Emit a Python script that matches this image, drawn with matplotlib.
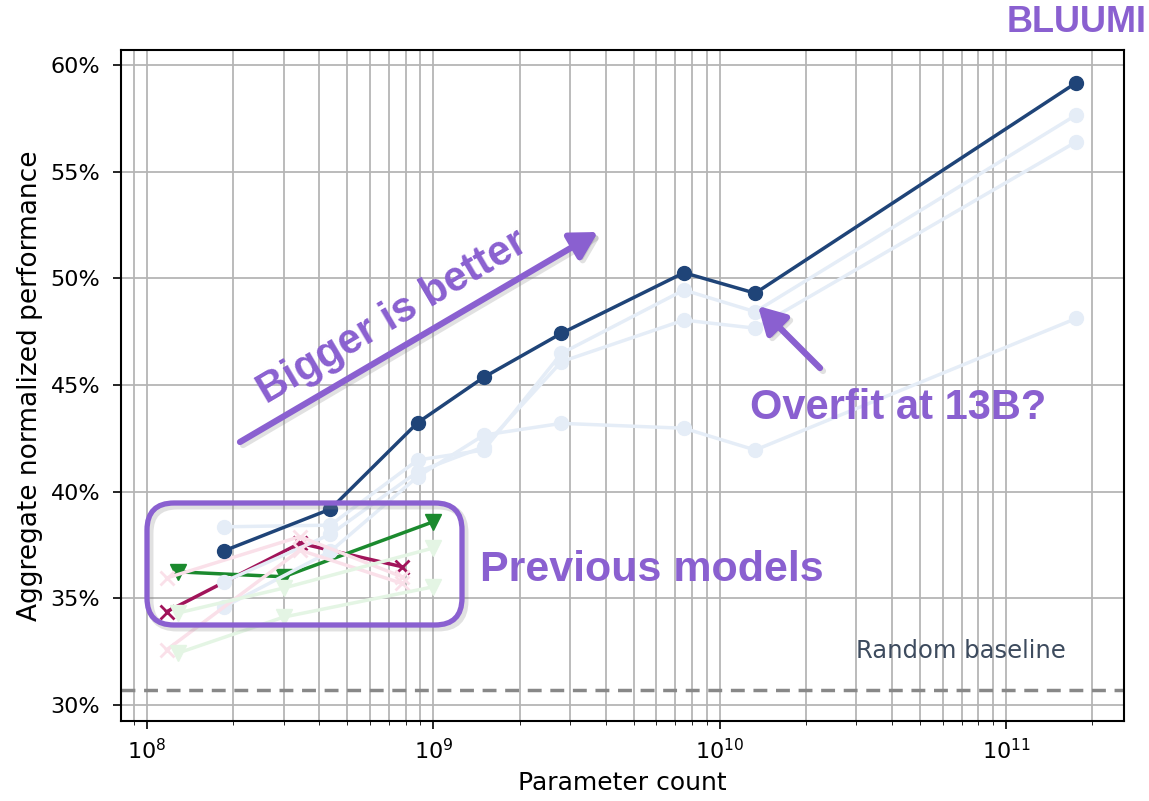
import matplotlib
matplotlib.use("Agg")
import matplotlib.pyplot as plt
from matplotlib.patches import FancyArrowPatch, FancyBboxPatch
from matplotlib.ticker import FuncFormatter, LogLocator

# --- données ---
bluumi_params = [1.86e8, 4.37e8, 8.81e8, 1.5e9, 2.8e9, 7.5e9, 1.33e10, 1.76e11]
bluumi_perf = [37.23, 39.18, 43.23, 45.36, 47.42, 50.26, 49.30, 59.17]

# séries estompées (même tailles de modèles)
faint_a = [38.35, 38.43, 41.48, 41.95, 46.48, 49.45, 48.43, 57.66]
faint_b = [35.78, 38.0, 40.93, 42.1, 46.09, 48.04, 47.66, 56.4]
faint_c = [34.60, 37.2, 40.7, 42.65, 43.2, 42.97, 41.95, 48.12]

# anciens modèles
x_model_params = [1.17e8, 3.42e8, 7.77e8]
x_model_perf = [34.37, 37.58, 36.48]
x_faint_1 = [35.95, 37.89, 36.01]
x_faint_2 = [32.58, 37.26, 35.7]

tri_model_params = [1.28e8, 3.0e8, 1.0e9]
tri_model_perf = [36.24, 36.01, 38.59]
tri_faint_1 = [34.31, 35.48, 37.36]
tri_faint_2 = [32.43, 34.12, 35.54]

random_baseline = 30.7
y_ticks = [30, 35, 40, 45, 50, 55, 60]

# couleurs
dark_blue = "#1f4478"
crimson = "#a1145a"
green = "#1b8a2e"
faint_blue = "#e5edf7"
faint_pink = "#fae0e9"
faint_green = "#e4f5e4"
purple = "#8a60d0"

fig = plt.figure(figsize=(11.49, 8.01), dpi=100)
ax = fig.add_axes([0.1053, 0.0999, 0.8729, 0.8377])


def px(x, y):
    """pixels (origine en haut à gauche) -> pouces pour dpi_scale_trans"""
    return x / 100.0, (801 - y) / 100.0


inch = fig.dpi_scale_trans

# anciens modèles (dessous)
ax.plot(x_model_params, x_model_perf, color=crimson, marker="x", ms=10,
        mew=2, lw=2.5, zorder=2)
ax.plot(tri_model_params, tri_model_perf, color=green, marker="v", ms=12,
        lw=2.5, zorder=2)

# séries estompées
for vals in (faint_a, faint_b, faint_c):
    ax.plot(bluumi_params, vals, color=faint_blue, marker="o", ms=10,
            lw=2.5, zorder=3)
for vals in (x_faint_1, x_faint_2):
    ax.plot(x_model_params, vals, color=faint_pink, marker="x", ms=10,
            mew=2, lw=2.5, zorder=3)
for vals in (tri_faint_1, tri_faint_2):
    ax.plot(tri_model_params, vals, color=faint_green, marker="v", ms=12,
            lw=2.5, zorder=3)

# série principale
ax.plot(bluumi_params, bluumi_perf, color=dark_blue, marker="o", ms=10,
        lw=2.5, zorder=4)

# ligne de base aléatoire
ax.axhline(random_baseline, color="#888888", lw=2.5, ls=(0, (4, 2.5)), zorder=2)
ax.text(3.0e10, 32.53, "Random baseline", ha="left", va="center",
        fontsize=17.5, color="#3d4b5e")

# axes
ax.set_xscale("log")
ax.set_xlim(8.11e7, 2.58e11)
ax.set_ylim(29.25, 60.7)
ax.set_yticks(y_ticks)
ax.yaxis.set_major_formatter(FuncFormatter(lambda v, p: f"{v:.0f}%"))
ax.xaxis.set_major_locator(LogLocator(base=10, numticks=10))
ax.xaxis.set_minor_locator(LogLocator(base=10, subs=range(2, 10), numticks=20))
ax.set_axisbelow(True)
ax.grid(True, which="major", color="#b5b5b5", lw=1.3)
ax.grid(True, which="minor", axis="x", color="#b5b5b5", lw=1.3)
ax.tick_params(labelsize=16, length=6, width=1.2)
ax.tick_params(axis="y", pad=9)
ax.tick_params(axis="x", pad=6)
ax.tick_params(which="minor", length=3)
for sp in ax.spines.values():
    sp.set_linewidth(1.5)
ax.set_xlabel("Parameter count", fontsize=18, labelpad=6)
ax.set_ylabel("Aggregate normalized performance", fontsize=19, labelpad=5)

# --- annotations ---
ann_font = dict(family=["Liberation Sans", "DejaVu Sans"], weight="bold",
                color=purple)


def purple_box(x0, y1, w, h, color, lw, z, alpha=1.0):
    b = FancyBboxPatch(px(x0, y1), w / 100.0, h / 100.0,
                       boxstyle="round,pad=0,rounding_size=0.27",
                       transform=inch, facecolor="none", edgecolor=color,
                       lw=lw, zorder=z, alpha=alpha)
    fig.add_artist(b)


def purple_arrow(tail, head, color, z, alpha=1.0):
    a = FancyArrowPatch(px(*tail), px(*head), transform=inch,
                        arrowstyle="-|>,head_length=0.8,head_width=0.45",
                        mutation_scale=20, color=color, lw=4.5,
                        shrinkA=0, shrinkB=0, zorder=z, alpha=alpha)
    fig.add_artist(a)


# ombres légères
purple_box(150, 628, 315, 122, "#888888", 5, 5, alpha=0.25)
purple_arrow((243, 445), (601, 235), "#888888", 5, alpha=0.25)
purple_arrow((823, 371), (761, 309), "#888888", 5, alpha=0.25)

purple_box(147, 625, 315, 122, purple, 3.8, 6)
purple_arrow((240, 442), (598, 232), purple, 6)
purple_arrow((820, 368), (758, 306), purple, 6)

tx, ty = px(393, 317)
fig.text(tx, ty, "Bigger is better", transform=inch, rotation=30.5,
         ha="center", va="center", fontsize=30, rotation_mode="anchor",
         **ann_font)
tx, ty = px(898, 408)
fig.text(tx, ty, "Overfit at 13B?", transform=inch, ha="center",
         va="center", fontsize=30, **ann_font)
tx, ty = px(652, 570)
fig.text(tx, ty, "Previous models", transform=inch, ha="center",
         va="center", fontsize=31, **ann_font)
tx, ty = px(1147, 22)
fig.text(tx, ty, "BLUUMI", transform=inch, ha="right", va="center",
         fontsize=26, **ann_font)

fig.savefig("out.png", dpi=100)
